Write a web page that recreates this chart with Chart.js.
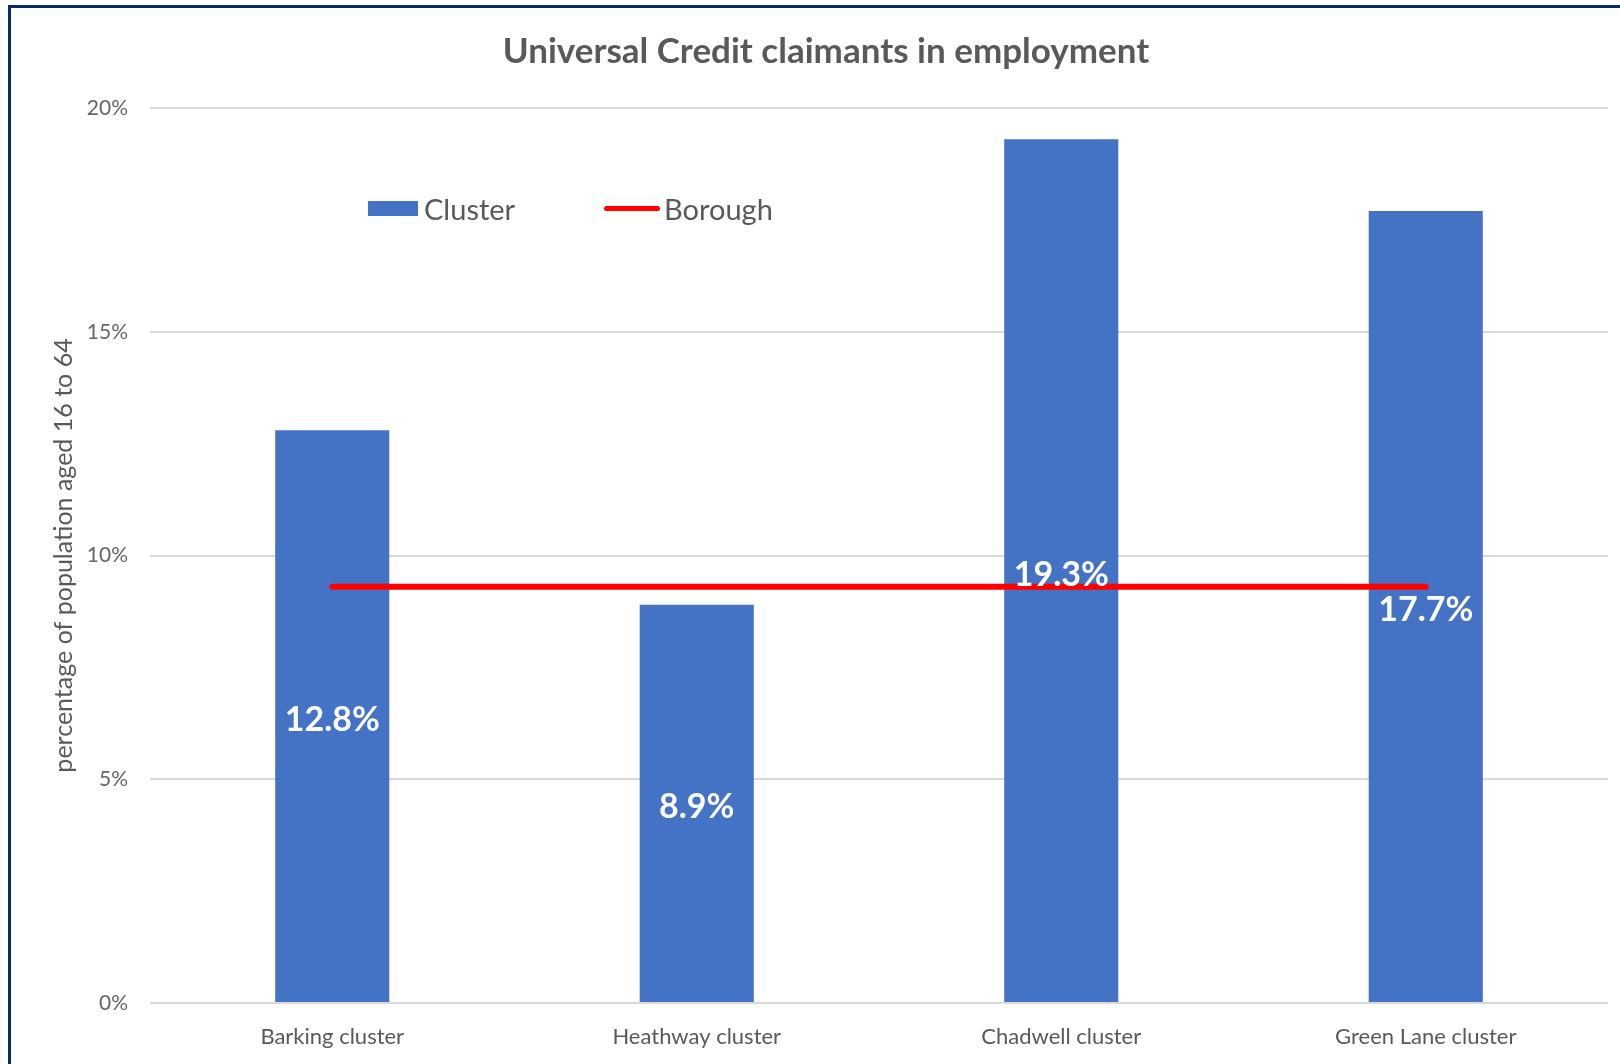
<!DOCTYPE html>
<html>
<head>
<meta charset="utf-8">
<script src="https://cdn.jsdelivr.net/npm/chart.js@4.4.1/dist/chart.umd.min.js"></script>
<style>
  html, body { margin: 0; padding: 0; background: #ffffff; overflow: hidden; width: 1620px; height: 1064px; }
  #wrap { position: absolute; left: 0; top: 0; width: 1652px; height: 1064px; }
  #frame { position: absolute; left: 8px; top: 5px; width: 1700px; height: 1100px; border: 3px solid #0c2866; pointer-events: none; }
  .legend { position: absolute; top: 190px; height: 36px; display: flex; align-items: center; font-family: Lato, "Open Sans", sans-serif; font-size: 29px; color: #595959; }
  .sw-bar { display: inline-block; width: 50px; height: 15px; background: #4472c4; margin-right: 6px; }
  .sw-line { display: inline-block; width: 56px; height: 5px; border-radius: 3px; background: #ff0000; margin-right: 4px; }
</style>
</head>
<body>
<div id="wrap"><canvas id="c" width="1652" height="1064"></canvas></div>
<div class="legend" style="left:368px;"><span class="sw-bar"></span><span>Cluster</span></div>
<div class="legend" style="left:604px;"><span class="sw-line"></span><span>Borough</span></div>
<div id="frame"></div>
<script>
const categories = ['Barking cluster', 'Heathway cluster', 'Chadwell cluster', 'Green Lane cluster'];
const clusterValues = [12.8, 8.9, 19.3, 17.7];
const boroughValues = [9.3, 9.3, 9.3, 9.3];
const clusterLabels = ['12.8%', '8.9%', '19.3%', '17.7%'];
const yTickLabels = ['0%', '5%', '10%', '15%', '20%'];
const chartTitle = 'Universal Credit claimants in employment';
const yAxisTitle = 'percentage of population aged 16 to 64';

const FONT = 'Lato, "Open Sans", sans-serif';

const barLabelPlugin = {
  id: 'barLabels',
  afterDatasetsDraw(chart) {
    const idx = chart.data.datasets.findIndex(d => d.type === 'bar');
    const meta = chart.getDatasetMeta(idx);
    const ctx = chart.ctx;
    ctx.save();
    ctx.font = 'bold 34px ' + FONT;
    ctx.fillStyle = '#ffffff';
    ctx.textAlign = 'center';
    ctx.textBaseline = 'alphabetic';
    meta.data.forEach((bar, i) => {
      const y = (bar.y + bar.base) / 2 + 15;
      ctx.fillText(clusterLabels[i], bar.x, y);
    });
    ctx.restore();
  }
};

new Chart(document.getElementById('c'), {
  data: {
    labels: categories,
    datasets: [
      {
        type: 'line',
        label: 'Borough',
        data: boroughValues,
        borderColor: '#ff0000',
        borderWidth: 6,
        borderCapStyle: 'round',
        pointRadius: 0,
        fill: false,
        order: 0
      },
      {
        type: 'bar',
        label: 'Cluster',
        data: clusterValues,
        backgroundColor: '#4472c4',
        barPercentage: 0.313,
        categoryPercentage: 1.0,
        order: 1
      }
    ]
  },
  options: {
    responsive: false,
    animation: false,
    devicePixelRatio: 1,
    layout: { padding: { left: 44, right: 44, top: 0, bottom: 0 } },
    plugins: {
      legend: { display: false },
      tooltip: { enabled: false },
      title: {
        display: true,
        text: chartTitle,
        color: '#595959',
        font: { family: FONT, size: 35, weight: 'bold', lineHeight: 1.2 },
        padding: { top: 31, bottom: 35 }
      }
    },
    scales: {
      x: {
        grid: { display: false, drawTicks: false },
        border: { display: false },
        ticks: { color: '#595959', font: { family: FONT, size: 22 }, padding: 21, maxRotation: 0 },
        afterFit(scale) { scale.height = 61; }
      },
      y: {
        min: 0,
        max: 20,
        grid: { color: '#d9d9d9', lineWidth: 2, drawTicks: false },
        border: { display: false },
        ticks: {
          stepSize: 5,
          color: '#666666',
          font: { family: FONT, size: 21 },
          padding: 22,
          callback: (v, i) => yTickLabels[i]
        },
        title: {
          display: true,
          text: yAxisTitle,
          color: '#595959',
          font: { family: FONT, size: 25, lineHeight: 1.2 },
          padding: { top: 5, bottom: 0 }
        },
        afterFit(scale) { scale.width = 106; }
      }
    }
  },
  plugins: [barLabelPlugin]
});
</script>
</body>
</html>
